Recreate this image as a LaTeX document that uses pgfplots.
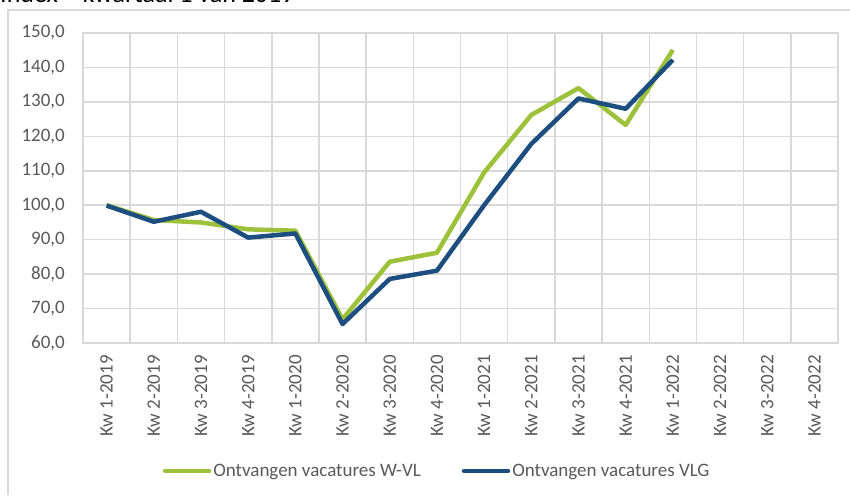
\documentclass[border=0pt]{standalone}
\usepackage{fontspec}
\setmainfont{Carlito}
\usepackage{pgfplots}
\pgfplotsset{compat=1.18}
\definecolor{wvl}{HTML}{9DC13A}
\definecolor{vlg}{HTML}{1D4E80}
\definecolor{gridc}{HTML}{D9D9D9}
\definecolor{txtc}{HTML}{595959}

\begin{document}
\begin{tikzpicture}
\useasboundingbox (0pt,0pt) rectangle (850pt,495pt);
% outer chart frame (top and left edges visible)
\draw[gridc, line width=1.5pt] (8pt,0pt) -- (8pt,485pt) -- (860pt,485pt);
\node[anchor=base west, inner sep=0pt, font=\fontsize{26}{30}\selectfont] at (0pt,492pt) {Index – kwartaal 1 van 2019};
\begin{axis}[
  at={(83pt,152pt)}, anchor=south west,
  scale only axis, width=755pt, height=310pt,
  xmin=-0.5, xmax=15.5, ymin=60, ymax=150,
  xtick={0,...,15},
  xticklabels={Kw 1-2019,Kw 2-2019,Kw 3-2019,Kw 4-2019,Kw 1-2020,Kw 2-2020,Kw 3-2020,Kw 4-2020,
               Kw 1-2021,Kw 2-2021,Kw 3-2021,Kw 4-2021,Kw 1-2022,Kw 2-2022,Kw 3-2022,Kw 4-2022},
  minor xtick={-0.5,0.5,...,15.5},
  ytick={60,70,...,150},
  xminorgrids=true, ymajorgrids=true,
  grid style={draw=gridc, line width=1.5pt},
  minor grid style={draw=gridc, line width=1.5pt},
  axis line style={draw=gridc, line width=1.5pt},
  major tick length=0pt, minor tick length=0pt,
  tick style={draw=none},
  /pgf/number format/assume math mode=true,
  yticklabel={\pgfmathprintnumber[fixed, fixed zerofill, precision=1, use comma]{\tick}},
  ticklabel style={font=\fontsize{19}{22}\selectfont, text=txtc},
  yticklabel style={anchor=east, inner sep=0pt},
  yticklabel shift=18pt,
  xticklabel style={rotate=90, anchor=east, inner sep=0pt},
  xticklabel shift=12pt,
  legend style={at={(0.469,-0.413)}, anchor=center, draw=none, fill=none,
                font=\fontsize{19}{22}\selectfont, text=txtc,
                legend columns=2, inner sep=0pt,
                /tikz/every even column/.append style={column sep=39pt},
                nodes={inner sep=2pt}},
  legend image code/.code={\draw[#1, line width=4.5pt, line cap=round] (0pt,0pt) -- (44pt,0pt);},
]
\addplot[wvl, line width=4.5pt, line join=round] coordinates {
  (0,100.0) (1,95.7) (2,95.0) (3,93.0) (4,92.6) (5,66.9) (6,83.6) (7,86.2)
  (8,109.5) (9,126.2) (10,134.0) (11,123.3) (12,145.1)};
\addlegendentry{Ontvangen vacatures W-VL}
\addplot[vlg, line width=4.5pt, line join=round] coordinates {
  (0,99.9) (1,95.2) (2,98.1) (3,90.6) (4,91.8) (5,65.5) (6,78.6) (7,81.0)
  (8,100.0) (9,117.8) (10,131.0) (11,128.0) (12,142.2)};
\addlegendentry{Ontvangen vacatures VLG}
\end{axis}
\end{tikzpicture}
\end{document}
